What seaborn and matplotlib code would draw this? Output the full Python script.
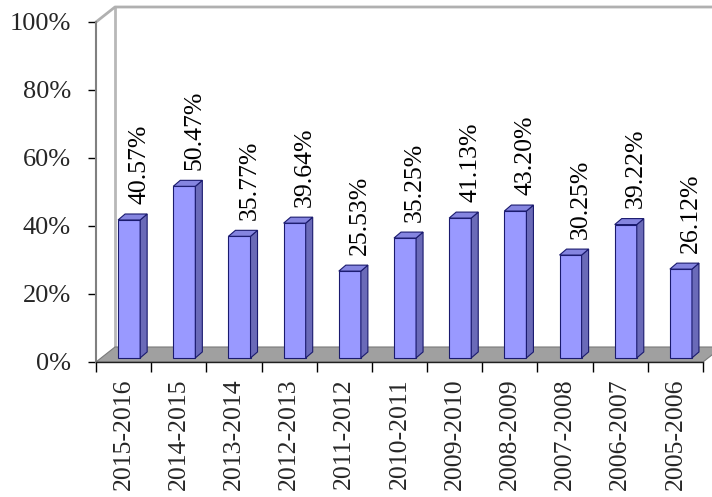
import matplotlib
matplotlib.use("Agg")
import matplotlib.pyplot as plt
from matplotlib.patches import Polygon
from matplotlib.ticker import FuncFormatter
import numpy as np
import pandas as pd
import seaborn as sns

# data
years = ["2015-2016", "2014-2015", "2013-2014", "2012-2013", "2011-2012", "2010-2011",
         "2009-2010", "2008-2009", "2007-2008", "2006-2007", "2005-2006"]
rates = [40.57, 50.47, 35.77, 39.64, 25.53, 35.25, 41.13, 43.20, 30.25, 39.22, 26.12]
rate_labels = [f"{v:.2f}%" for v in rates]
y_ticks = [0, 20, 40, 60, 80, 100]

df = pd.DataFrame({"year": years, "rate": rates})

sns.set_style("white")
plt.rcParams["font.family"] = ["Liberation Serif", "DejaVu Serif"]

fig = plt.figure(figsize=(7.12, 4.97), dpi=100)
ax = fig.add_axes([96/712, (497-362)/497, 607/712, 340/497])

sns.barplot(data=df, x="year", y="rate", color="#9999ff", saturation=1, width=0.4,
            edgecolor="#1a1a6e", linewidth=0.8, ax=ax, zorder=3)
bars = list(ax.patches)

n = len(years)
ax.set_xlim(-0.5, n - 0.5)
ax.set_ylim(0, 100)

# fake 3d: depth of floor / bars in data units
fx, fy = 19/55.18, 15/3.4
bx, by = 0.1, 1.2
sx, sy = 0.127, 1.76

floor = Polygon([(-0.5, 0), (n-0.5, 0), (n-0.5+fx, fy), (-0.5+fx, fy)],
                facecolor="#a0a0a0", edgecolor="#7a7a7a", lw=0.8, clip_on=False, zorder=1)
ax.add_patch(floor)
ax.plot([-0.5+fx, -0.5+fx], [fy, 100+fy], color="#b8b8b8", lw=2, clip_on=False, zorder=0.5)
ax.plot([-0.5, -0.5+fx, n+1], [100, 100+fy, 100+fy], color="#b0b0b0", lw=2, clip_on=False, zorder=0.5)

for p, lab in zip(bars, rate_labels):
    x0 = p.get_x() + bx
    w, h = p.get_width(), p.get_height()
    p.set_x(x0)
    p.set_y(by)
    top = by + h
    side = Polygon([(x0+w, by), (x0+w+sx, by+sy), (x0+w+sx, top+sy), (x0+w, top)],
                   facecolor="#6a6ab8", edgecolor="#1a1a6e", lw=0.8, zorder=3, clip_on=False)
    cap = Polygon([(x0, top), (x0+sx, top+sy), (x0+w+sx, top+sy), (x0+w, top)],
                  facecolor="#8585e0", edgecolor="#1a1a6e", lw=0.8, zorder=3, clip_on=False)
    ax.add_patch(side)
    ax.add_patch(cap)
    ax.text(x0 + w/2 + 0.18, top + sy + 3.0, lab, rotation=90, ha="center", va="bottom",
            fontsize=18.5, color="black")

ax.set_yticks(y_ticks)
ax.yaxis.set_major_formatter(FuncFormatter(lambda v, pos: f"{v:.0f}%"))
ax.tick_params(axis="y", left=True, length=6, width=1, color="black", pad=12, labelsize=19)
ax.set_xticks(range(n))
ax.set_xticklabels(years, rotation=90, ha="center", fontsize=18.5)
ax.set_xticks(np.arange(-0.5, n), minor=True)
ax.tick_params(axis="x", which="major", length=0, pad=12)
ax.tick_params(axis="x", which="minor", bottom=True, length=7, width=1, color="black")
ax.set_xlabel("")
ax.set_ylabel("")

for s in ["top", "right"]:
    ax.spines[s].set_visible(False)
ax.spines["left"].set_color("#808080")
ax.spines["left"].set_linewidth(1.5)
ax.spines["bottom"].set_color("#202020")
ax.spines["bottom"].set_linewidth(1)

fig.savefig("out.png", dpi=100)
